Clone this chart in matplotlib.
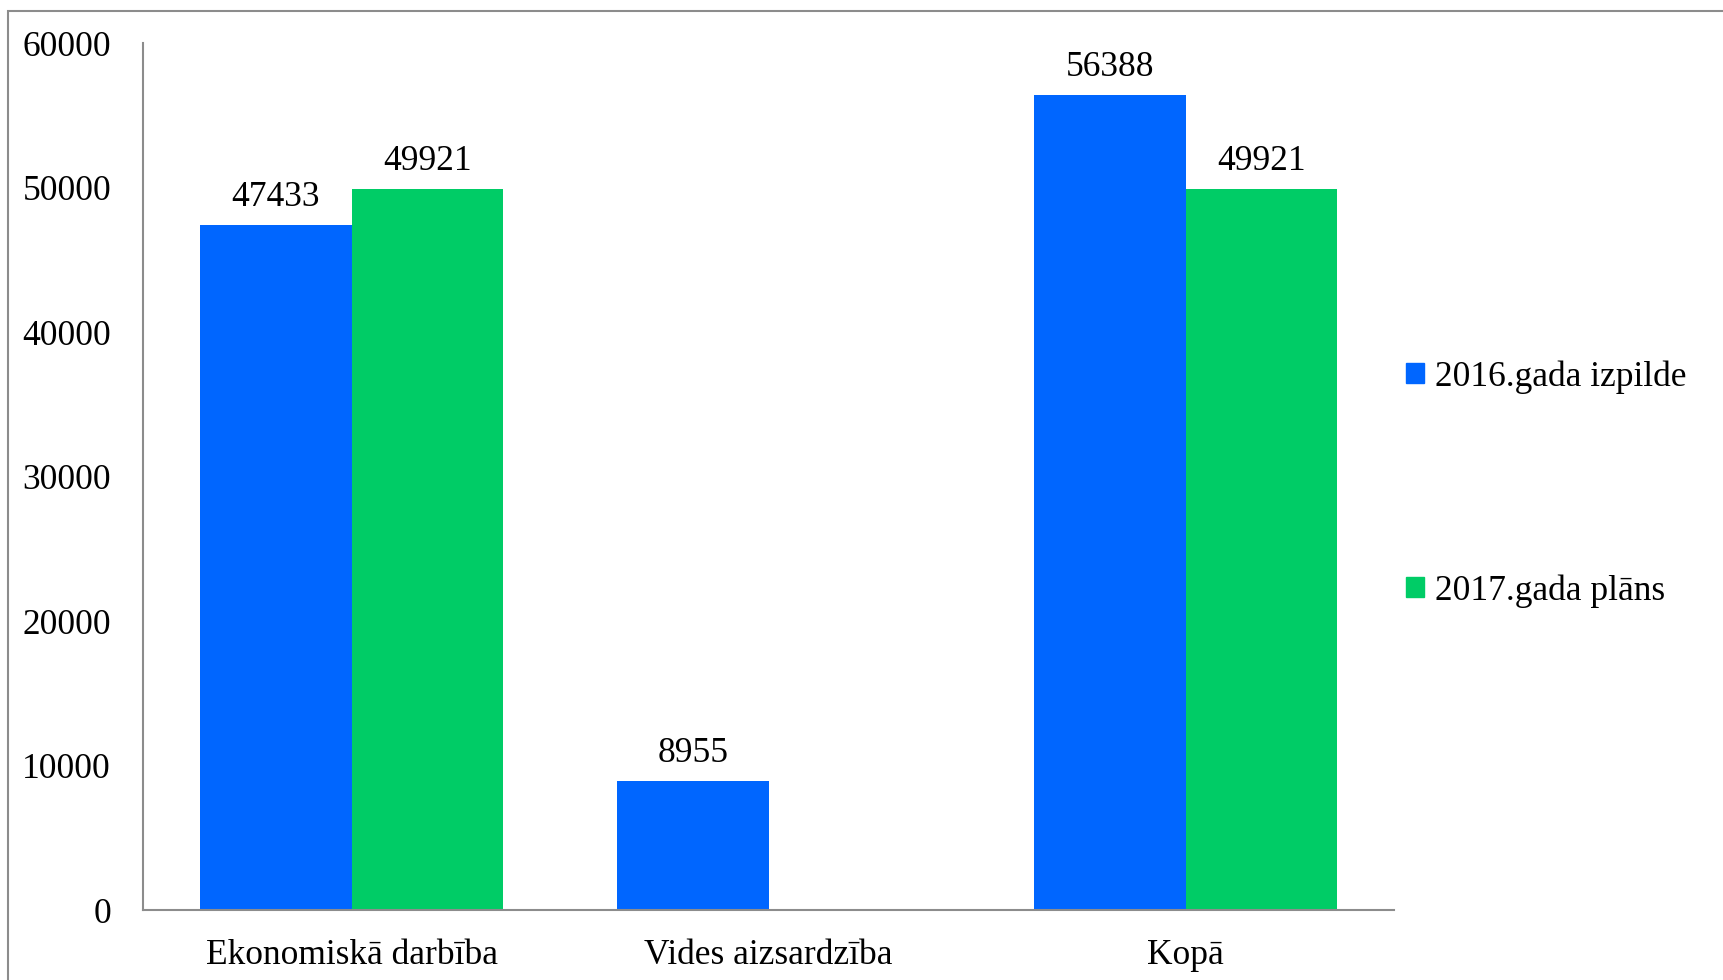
import matplotlib.pyplot as plt
import matplotlib.patches as mpatches
import numpy as np

# Datos del gráfico
kategorijas = ['Ekonomiskā darbība', 'Vides aizsardzība', 'Kopā']
izpilde_2016 = [47433, 8955, 56388]
plans_2017 = [49921, None, 49921]
serijas = ['2016.gada izpilde', '2017.gada plāns']
y_ticks = [0, 10000, 20000, 30000, 40000, 50000, 60000]

ZILS = '#0066FF'
ZALS = '#00CC66'
PELEKS = '#8C8C8C'
FS = 25.5

plt.rcParams['font.family'] = ['Liberation Serif', 'DejaVu Serif']

fig = plt.figure(figsize=(17.23, 9.8), dpi=100)
ax = fig.add_axes([0.0830, 0.0714, 0.7261, 0.8847])

# borde exterior (solo arriba e izquierda visibles)
fig.patches.append(mpatches.Rectangle((8 / 1723, -0.1), 2.0, 1.1 - 11 / 980,
                                      transform=fig.transFigure, fill=False,
                                      edgecolor=PELEKS, linewidth=1.5))

x = np.arange(len(kategorijas))
w = 0.364

for i, v in enumerate(izpilde_2016):
    if v is None:
        continue
    ax.bar(x[i] - w / 2, v, width=w, color=ZILS)
    ax.annotate(str(v), (x[i] - w / 2, v), xytext=(0, 8), textcoords='offset points',
                ha='center', va='bottom', fontsize=FS)

for i, v in enumerate(plans_2017):
    if v is None:
        continue
    ax.bar(x[i] + w / 2, v, width=w, color=ZALS)
    ax.annotate(str(v), (x[i] + w / 2, v), xytext=(0, 8), textcoords='offset points',
                ha='center', va='bottom', fontsize=FS)

ax.set_xlim(-0.5, 2.5)
ax.set_ylim(0, 60000)
ax.set_yticks(y_ticks)
ax.set_yticklabels([str(t) for t in y_ticks], fontsize=FS)
ax.set_xticks(x)
ax.set_xticklabels(kategorijas, fontsize=FS)
ax.tick_params(axis='y', length=0, pad=23)
ax.tick_params(axis='x', length=0, pad=21)

for s in ['top', 'right']:
    ax.spines[s].set_visible(False)
for s in ['left', 'bottom']:
    ax.spines[s].set_color(PELEKS)
    ax.spines[s].set_linewidth(1.5)

roktura = [mpatches.Patch(color=ZILS, label=serijas[0]),
           mpatches.Patch(color=ZALS, label=serijas[1])]
fig.legend(handles=roktura, loc='center left', bbox_to_anchor=(0.816, 0.506),
           frameon=False, fontsize=FS, handlelength=0.5, handleheight=0.5,
           handletextpad=0.33, labelspacing=5.1, borderpad=0, borderaxespad=0)

plt.savefig('out.png', dpi=100, facecolor='white')
